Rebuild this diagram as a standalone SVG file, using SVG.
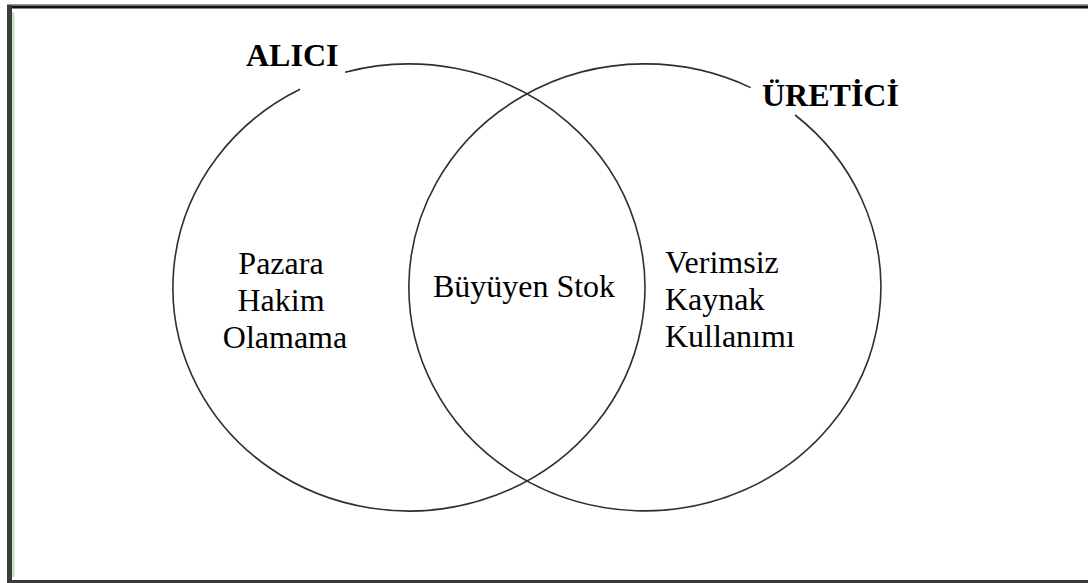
<svg xmlns="http://www.w3.org/2000/svg" width="1088" height="583" viewBox="0 0 1088 583">
  <style>
    .circle { fill: none; stroke: #2e2e33; stroke-width: 1.6; }
    .title { font-family: "Liberation Serif", "Times New Roman", serif; font-weight: bold; font-size: 32px; fill: #000; }
    .label { font-family: "Liberation Serif", "Times New Roman", serif; font-size: 32px; fill: #000; }
  </style>
  <rect x="0" y="0" width="1088" height="583" fill="#ffffff"/>
  <g id="frame">
    <rect x="7" y="4" width="1081" height="1.5" fill="#9a9a9a"/>
    <rect x="7" y="5.5" width="1081" height="3" fill="#111111"/>
    <rect x="7" y="5" width="5" height="578" fill="#3c3c3c"/>
    <rect x="12" y="12" width="2.5" height="565" fill="#c4e2c4"/>
    <rect x="7" y="580" width="1081" height="3" fill="#3a3a3a"/>
  </g>
  <g id="alici">
    <path class="circle" d="M345.1,72.3 A236,223.5 0 1 1 300,89.2"/>
    <text class="title" x="246" y="66">ALICI</text>
    <text class="label" text-anchor="middle">
      <tspan x="285" y="274">Pazara</tspan>
      <tspan x="285" y="311">Hakim</tspan>
      <tspan x="285" y="348">Olamama</tspan>
    </text>
  </g>
  <g id="uretici">
    <path class="circle" d="M795.1,115 A236,223.5 0 1 1 750.7,87.6"/>
    <text class="title" x="762" y="106">ÜRETİCİ</text>
    <text class="label">
      <tspan x="665" y="273">Verimsiz</tspan>
      <tspan x="665" y="310">Kaynak</tspan>
      <tspan x="665" y="347">Kullanımı</tspan>
    </text>
  </g>
  <g id="kesisim">
    <text class="label" x="524" y="297" text-anchor="middle">Büyüyen Stok</text>
  </g>
  <g id="connectors"></g>
</svg>
